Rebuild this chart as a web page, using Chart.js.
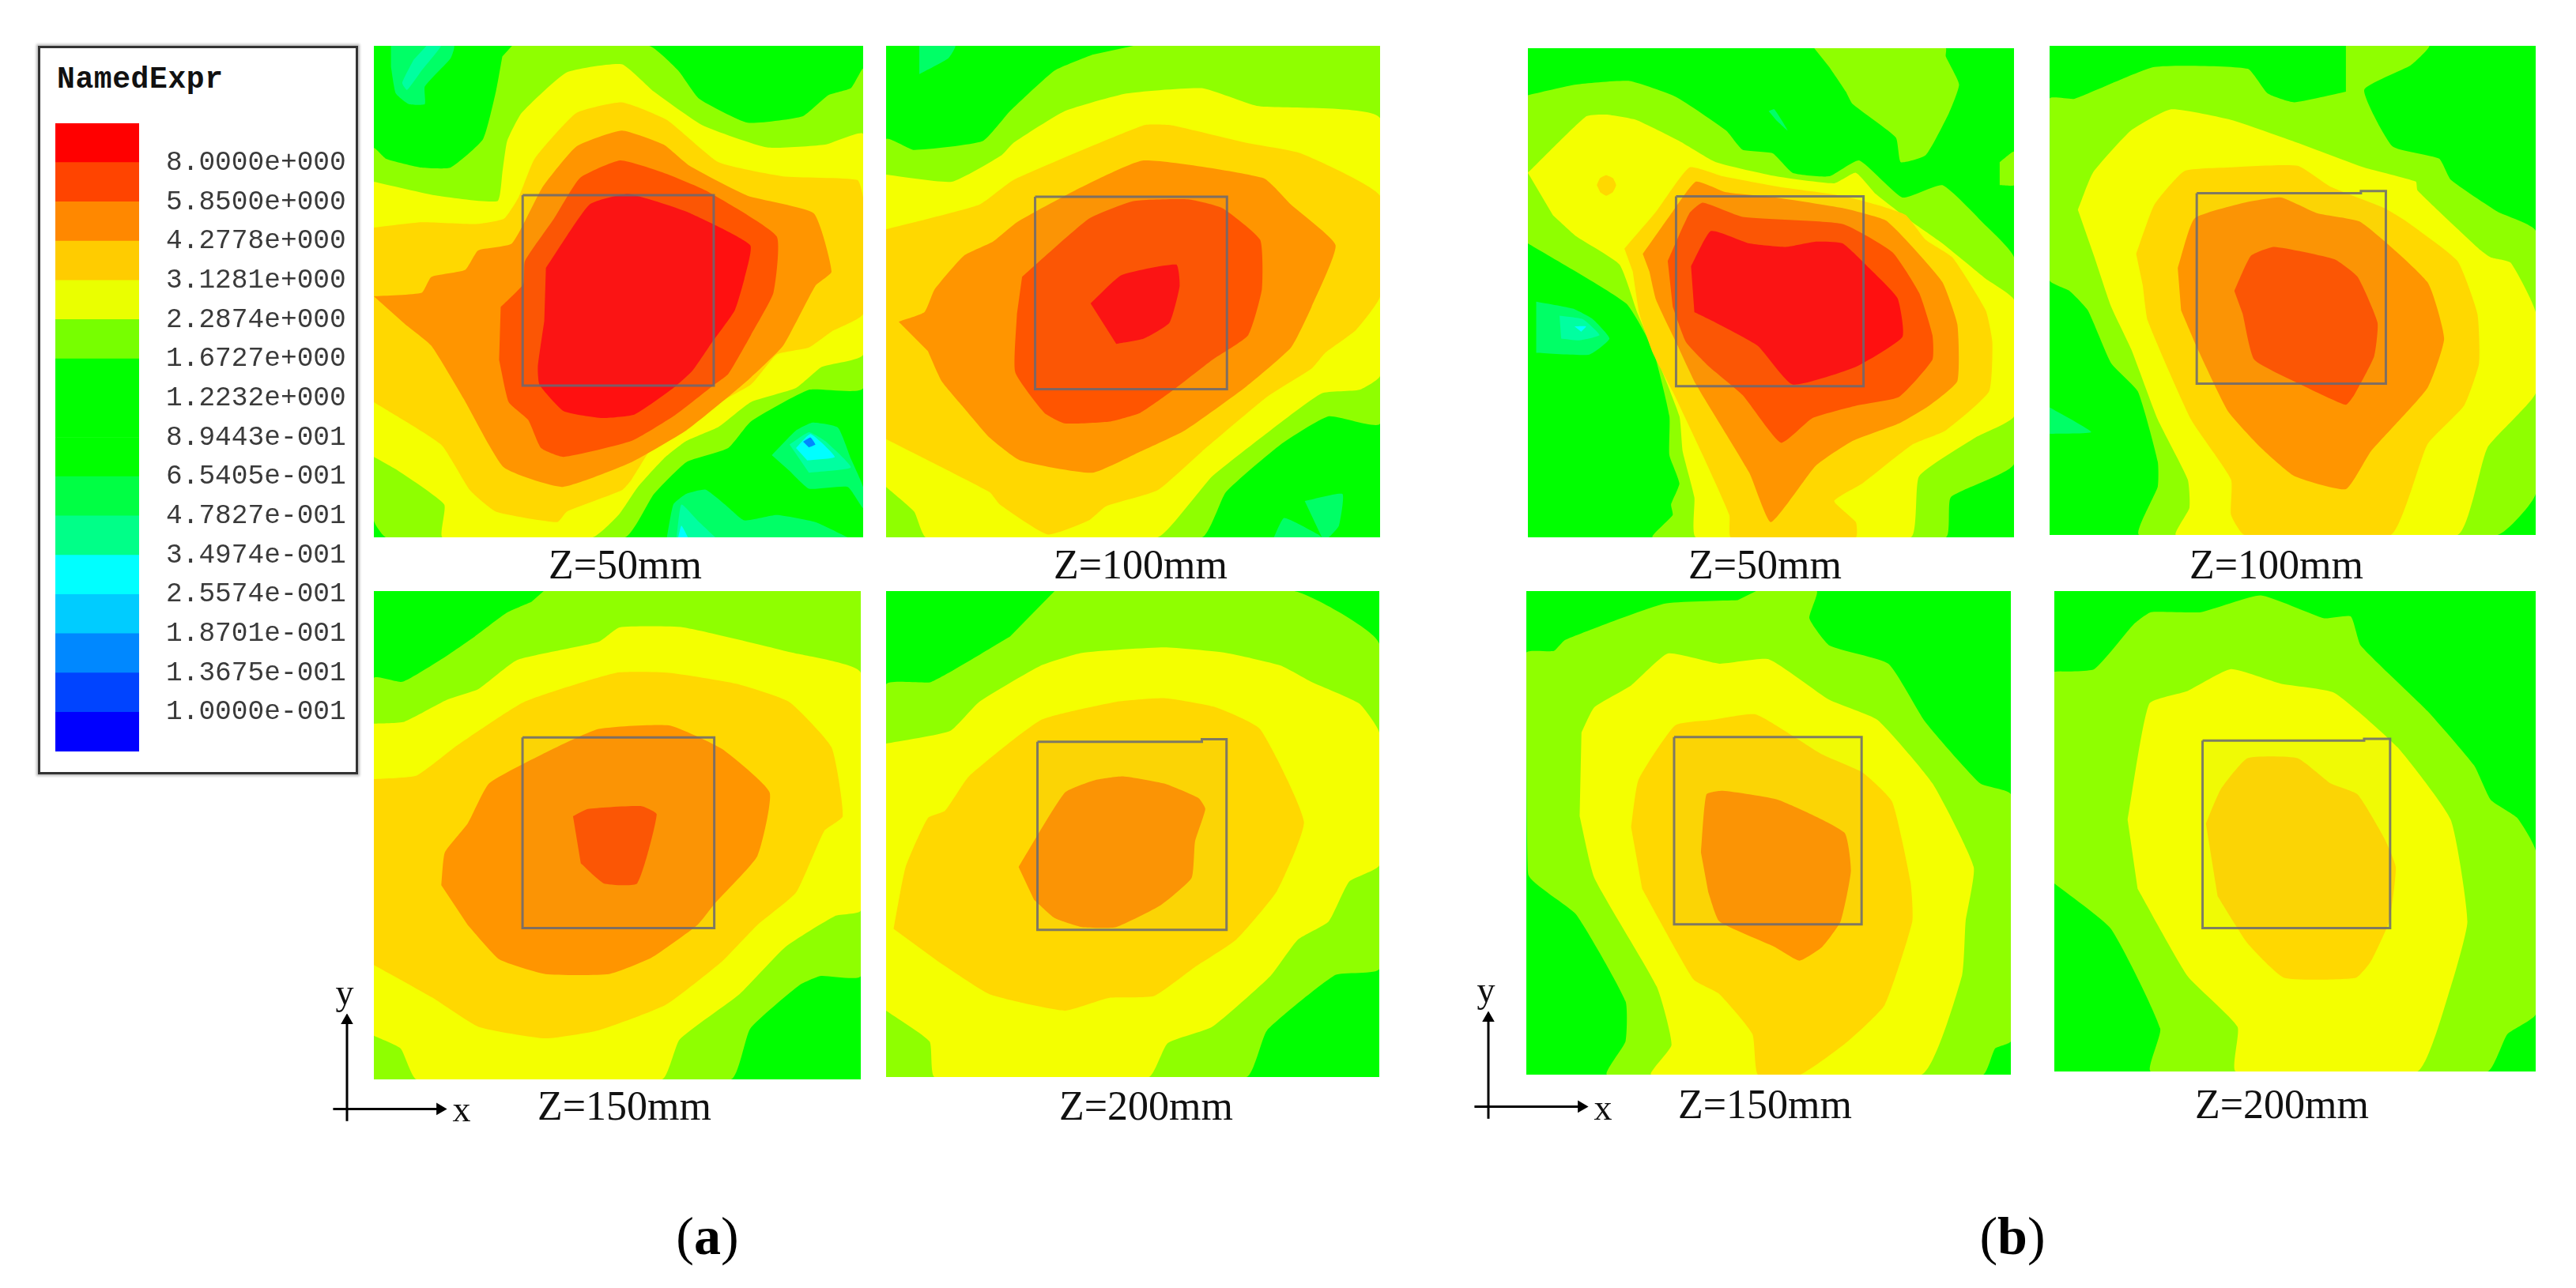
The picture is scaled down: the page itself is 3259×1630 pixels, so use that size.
<!DOCTYPE html>
<html><head><meta charset="utf-8">
<script src="https://cdn.jsdelivr.net/npm/chart.js@4"></script>
<style>
html,body{margin:0;padding:0;background:#fff;width:3259px;height:1630px;overflow:hidden}
#stage{position:relative;width:3259px;height:1630px}
canvas{position:absolute;display:block}
canvas.panel{filter:blur(0.6px)}
.cap{position:absolute;transform:translate(-50%,-50%);font-family:"Liberation Serif",serif;font-size:52px;line-height:1;color:#111;white-space:nowrap}
.sub{position:absolute;transform:translate(-50%,-50%);font-family:"Liberation Serif",serif;font-size:68px;line-height:1;color:#000;white-space:nowrap}
.ax{position:absolute;transform:translate(-50%,-50%);font-family:"Liberation Serif",serif;font-size:46px;line-height:1;color:#111}
#frame{position:absolute;left:48px;top:58px;width:399px;height:916px;border:3px solid #333;background:#fff;box-shadow:0 0 3px 2px #bbb}
#ltitle{position:absolute;left:72px;top:101px;transform:translateY(-50%);font:bold 38px "Liberation Mono",monospace;letter-spacing:0.6px;line-height:1;color:#111}
</style></head><body><div id="stage"></div>
<script>
// ---------- colour scale ----------
const legendLabels = ["8.0000e+000","5.8500e+000","4.2778e+000","3.1281e+000","2.2874e+000","1.6727e+000","1.2232e+000","8.9443e-001","6.5405e-001","4.7827e-001","3.4974e-001","2.5574e-001","1.8701e-001","1.3675e-001","1.0000e-001"];
const legendColors = ["#ff0000","#ff4400","#ff8800","#ffcc00","#eaff00","#77ff00","#00ff00","#00ff00","#00ff00","#00ff44","#00ff88","#00ffff","#00ccff","#0088ff","#0044ff","#0000ff"];
const C = {c0:"#00ff00",c1:"#8fff00",c2:"#f4ff00",c3:"#ffd800",c4:"#ff9500",c5:"#ff5500",c6:"#ff1010",l1:"#00ff66",l2:"#00ffa0",l3:"#00ffff",l4:"#0088ff"};

// ---------- (a) Z=50mm ----------
const a50_range=[32,1548,40,1433];
const a50_l1=[[85,40],[280,40],[270,75],[190,155],[190,205],[140,205],[100,175],[85,100]];
const a50_l2=[[195,40],[240,40],[180,110],[135,165],[120,145],[155,80]];
const a50_l1b=[[1265,1200],[1340,1130],[1390,1108],[1470,1122],[1510,1210],[1548,1290],[1548,1350],[1500,1290],[1380,1295],[1320,1245]];
const a50_l2b=[[1320,1170],[1380,1135],[1430,1160],[1510,1235],[1380,1250]];
const a50_l3b=[[1340,1180],[1385,1140],[1460,1205],[1375,1215]];
const a50_l4b=[[1362,1162],[1385,1150],[1400,1170],[1380,1178]];
const a50_l1c=[[940,1433],[960,1340],[1000,1310],[1060,1298],[1120,1340],[1180,1385],[1280,1370],[1400,1390],[1500,1433]];
const a50_l2c=[[970,1433],[985,1340],[1040,1390],[1090,1433]];
const a50_l3c=[[975,1433],[985,1400],[1005,1433]];
const a50_c1=[[460,40],[885,40],[975,110],[1040,190],[1190,258],[1360,240],[1440,180],[1510,160],[1548,105],[1548,1010],[1380,1015],[1200,1105],[1130,1180],[1000,1220],[900,1310],[810,1433],[70,1433],[32,1385],[32,330],[70,360],[180,385],[270,385],[370,305],[410,170],[430,70]];
const a50_c2=[[32,425],[230,465],[415,480],[430,400],[445,310],[490,230],[630,115],[800,92],[900,170],[1050,265],[1250,328],[1430,320],[1548,290],[1548,915],[1420,950],[1340,1010],[1200,1050],[1100,1120],[1000,1160],[930,1210],[850,1290],[790,1370],[710,1433],[245,1433],[250,1340],[100,1240],[32,1205]];
const a50_c3=[[32,555],[180,540],[350,545],[435,530],[480,470],[530,360],[660,230],[800,200],[940,250],[1100,370],[1300,410],[1530,420],[1548,470],[1548,800],[1450,850],[1380,895],[1280,915],[1200,1000],[1000,1100],[900,1170],[830,1270],[800,1300],[630,1360],[600,1390],[410,1360],[330,1300],[240,1170],[32,1050]];
const a50_c4=[[32,750],[180,740],[210,695],[315,675],[355,620],[460,600],[555,440],[660,325],[800,280],[930,320],[1010,380],[1190,465],[1395,515],[1450,680],[1400,720],[1300,890],[1200,980],[1130,1035],[1000,1130],[830,1220],[615,1290],[435,1235],[310,1040],[210,890],[130,830]];
const a50_c5=[[425,780],[495,715],[500,650],[590,530],[670,415],[795,365],[930,400],[1060,450],[1280,580],[1270,740],[1200,860],[1130,970],[1080,1005],[960,1090],[830,1160],[620,1205],[550,1180],[510,1100],[450,1050],[420,930]];
const a50_c6=[[565,670],[700,490],[820,460],[1000,510],[1198,605],[1180,700],[1150,790],[1080,880],[1020,960],[960,1010],[840,1085],[740,1095],[620,1075],[545,1000],[540,950],[560,820]];
const a50_box=[[493,463],[1085,463],[1085,1003],[493,1003],[493,463]];

// ---------- (a) Z=100mm ----------
const a100_range=[48,1490,40,1433];
const a100_l1=[[145,40],[250,40],[230,75],[145,120]];
const a100_l1b=[[1270,1330],[1380,1310],[1370,1400],[1340,1433],[1320,1433]];
const a100_l1c=[[1180,1433],[1210,1378],[1310,1425],[1320,1433]];
const a100_c1=[[770,40],[1490,40],[1490,1110],[1340,1090],[1200,1170],[1040,1305],[970,1433],[48,1433],[48,305],[130,335],[330,310],[410,225],[540,110],[650,65]];
const a100_c2=[[48,405],[240,425],[385,350],[420,315],[570,225],[750,175],[970,160],[1130,210],[1490,245],[1490,975],[1430,1015],[1320,1025],[1170,1130],[1000,1260],[940,1330],[840,1433],[165,1433],[130,1360],[48,1290]];
const a100_c3=[[48,560],[320,490],[420,420],[800,265],[880,265],[1100,315],[1260,345],[1490,465],[1490,750],[1420,845],[1330,910],[1290,955],[1160,1035],[970,1190],[840,1300],[690,1345],[640,1385],[520,1425],[380,1340],[350,1305],[48,1155]];
const a100_c4=[[85,822],[160,795],[190,730],[275,635],[360,595],[430,540],[600,450],[800,365],[1150,415],[1230,490],[1360,605],[1290,780],[1230,895],[1100,1005],[920,1130],[790,1190],[650,1250],[440,1215],[350,1150],[270,1060],[210,990],[170,905]];
const a100_c5=[[445,695],[640,530],[770,480],[930,475],[1030,500],[1140,590],[1145,730],[1105,860],[1000,930],[880,1020],[790,1080],[700,1105],[570,1110],[510,1080],[425,965],[430,800]];
const a100_c6=[[645,770],[735,690],[895,660],[905,720],[875,825],[800,870],[720,885]];
const a100_box=[[483,468],[1043,468],[1043,1013],[483,1013],[483,468]];

// ---------- (a) Z=150mm ----------
const a150_range=[164,1543,40,1385];
const a150_c1=[[645,40],[1543,40],[1543,1100],[1430,1100],[1370,1125],[1230,1245],[1175,1385],[164,1385],[164,280],[245,290],[360,225],[450,165],[540,100],[610,70]];
const a150_c2=[[164,405],[250,400],[370,340],[460,310],[570,230],[800,180],[860,140],[1040,140],[1350,210],[1543,265],[1543,920],[1470,935],[1330,1020],[1200,1150],[1030,1275],[980,1385],[285,1385],[240,1300],[164,1265]];
const a150_c3=[[164,558],[285,548],[400,465],[590,345],[850,265],[1000,265],[1190,295],[1340,345],[1460,470],[1492,660],[1440,700],[1360,870],[1250,960],[1150,1060],[990,1180],[800,1250],[650,1272],[460,1240],[330,1160],[164,1070]];
const a150_c4=[[355,850],[365,760],[430,680],[490,570],[640,490],[800,420],[1000,410],[1150,475],[1285,595],[1250,770],[1130,900],[1080,960],[950,1050],[830,1095],[650,1095],[520,1055],[430,960]];
const a150_c5=[[728,660],[770,640],[920,632],[965,655],[910,845],[815,845],[750,790]];
const a150_box=[[585,443],[1128,443],[1128,968],[585,968],[585,443]];

// ---------- (a) Z=200mm ----------
const a200_range=[48,1488,40,1378];
const a200_c1=[[540,40],[1240,40],[1488,185],[1488,1080],[1360,1097],[1160,1250],[1100,1378],[48,1378],[48,298],[180,290],[410,165]];
const a200_c2=[[48,460],[235,425],[320,345],[500,245],[620,210],[860,195],[1040,210],[1200,245],[1290,290],[1430,350],[1488,430],[1488,795],[1400,840],[1340,950],[1250,1000],[1170,1100],[1000,1240],[870,1285],[815,1378],[190,1378],[175,1280],[48,1195]];
const a200_c3=[[70,970],[105,800],[170,665],[220,645],[290,550],[500,395],[720,345],[860,335],[1010,360],[1140,420],[1268,675],[1190,865],[1070,1000],[950,1075],[830,1155],[700,1160],[570,1195],[350,1150],[200,1060]];
const a200_c4=[[435,800],[570,595],[660,560],[740,550],[860,570],[960,610],[980,640],[950,730],[940,830],[850,905],[720,965],[620,965],[540,940],[480,890]];
const a200_box=[[490,455],[970,455],[970,448],[1042,448],[1042,973],[490,973],[490,455]];

// ---------- (b) Z=50mm ----------
const b50_range=[55,1515,47,1433];
const b50_l1=[[80,765],[190,785],[250,815],[300,870],[240,915],[80,910]];
const b50_l2=[[150,805],[220,815],[270,860],[210,875],[155,870]];
const b50_l3=[[195,835],[230,835],[215,850]];
const b50_l1b=[[778,225],[795,220],[835,280],[800,250]];
const b50_c1a=[[915,47],[1310,47],[1310,70],[1350,150],[1320,230],[1250,350],[1175,370],[1160,300],[1030,205],[1010,170],[960,100]];
const b50_c1b=[[1472,370],[1515,340],[1515,435],[1472,435]];
const b50_c1=[[55,180],[200,150],[360,140],[500,185],[650,280],[700,335],[790,345],[850,400],[960,410],[1050,365],[1180,470],[1300,435],[1420,540],[1515,640],[1515,1225],[1325,1320],[1310,1433],[430,1433],[490,1370],[485,1340],[510,1280],[480,1200],[480,1090],[430,900],[350,770],[55,600]];
const b50_c2=[[55,400],[230,240],[290,235],[380,250],[510,310],[620,370],[800,410],[975,430],[1040,400],[1100,460],[1210,540],[1300,600],[1430,700],[1515,760],[1515,1090],[1400,1150],[1230,1260],[1205,1433],[560,1433],[555,1320],[520,1190],[510,1090],[440,920],[385,800],[330,660],[200,580],[130,520]];
const b50_c3a=[[262,435],[272,415],[290,407],[310,415],[320,435],[310,455],[290,465],[272,455]];
const b50_c3=[[345,615],[440,510],[540,385],[640,410],[810,440],[1000,465],[1100,490],[1190,520],[1250,590],[1330,640],[1430,790],[1450,880],[1440,1020],[1310,1130],[1210,1170],[1060,1280],[975,1330],[1040,1390],[1040,1433],[665,1433],[660,1370],[580,1200],[490,1020],[430,910],[390,800],[370,680]];
const b50_c4=[[400,630],[490,510],[560,425],[650,455],[800,470],[1000,500],[1130,535],[1210,610],[1300,710],[1345,830],[1345,990],[1260,1060],[1170,1110],[1030,1160],[920,1230],[785,1390],[720,1250],[560,1000],[500,880],[440,760],[420,680]];
const b50_c5=[[475,650],[540,515],[580,485],[700,525],[1000,545],[1150,625],[1230,740],[1270,860],[1270,930],[1170,1035],[1040,1060],[910,1095],[815,1165],[700,1030],[600,950],[530,880],[490,780]];
const b50_c6=[[545,665],[605,565],[720,600],[830,610],[920,595],[1000,600],[1080,670],[1165,755],[1180,865],[1040,950],[850,1000],[745,890],[620,825],[555,795]];
const b50_box=[[500,467],[1063,467],[1063,1005],[500,1005],[500,467]];

// ---------- (b) Z=100mm ----------
const b100_range=[55,1515,40,1427];
const b100_l1=[[55,1065],[180,1135],[55,1140]];
const b100_c1=[[945,40],[1195,40],[1140,95],[1000,165],[1085,325],[1225,360],[1260,420],[1400,510],[1515,565],[1515,1310],[1400,1427],[325,1427],[380,1290],[380,1220],[320,1020],[240,940],[170,790],[115,735],[55,705],[55,190],[130,190],[370,100],[650,105],[710,175],[790,200],[945,170]];
const b100_c2=[[140,505],[185,400],[300,280],[420,220],[600,250],[800,315],[1000,385],[1155,425],[1160,450],[1350,620],[1380,640],[1440,655],[1515,795],[1515,1025],[1370,1180],[1280,1427],[435,1427],[475,1350],[470,1270],[380,1100],[300,900],[240,780],[190,640]];
const b100_c3=[[315,630],[370,490],[460,395],[590,385],[800,380],[900,440],[1060,500],[1130,540],[1280,650],[1340,800],[1345,940],[1300,1060],[1190,1170],[1080,1427],[640,1427],[600,1370],[600,1270],[480,1100],[350,820],[335,720]];
const b100_c4=[[440,670],[490,530],[640,485],[750,470],[860,515],[990,540],[1190,710],[1240,870],[1190,1010],[1020,1190],[945,1297],[790,1260],[690,1180],[590,1075],[500,900],[450,790]];
const b100_c5=[[610,735],[660,635],[730,610],[910,645],[980,695],[1040,825],[1030,920],[970,1030],[945,1058],[820,1005],[670,930],[635,800]];
const b100_box=[[497,458],[990,458],[990,452],[1065,452],[1065,998],[497,998],[497,458]];

// ---------- (b) Z=150mm ----------
const b150_range=[195,1513,40,1372];
const b150_c1=[[820,40],[985,40],[965,115],[1020,190],[1180,240],[1280,400],[1430,570],[1513,600],[1513,1280],[1470,1300],[1437,1372],[415,1372],[465,1280],[465,1170],[330,930],[200,820],[195,210],[270,205],[300,175],[570,75],[770,65]];
const b150_c2=[[345,430],[380,360],[480,300],[580,212],[720,240],[855,228],[1020,340],[1150,395],[1300,570],[1412,800],[1390,950],[1380,1100],[1270,1372],[535,1372],[590,1290],[550,1130],[380,830],[340,660]];
const b150_c3=[[480,690],[500,560],[600,410],[700,395],[820,380],[1000,490],[1110,540],[1190,620],[1240,840],[1245,950],[1170,1180],[1070,1280],[940,1372],[825,1372],[810,1260],[720,1150],[650,1110],[510,860]];
const b150_c4=[[670,760],[685,600],[730,590],[880,615],[1060,705],[1078,810],[1050,950],[1000,1020],[938,1058],[870,1020],[720,950],[690,870]];
const b150_box=[[597,442],[1107,442],[1107,958],[597,958],[597,442]];

// ---------- (b) Z=200mm ----------
const b200_range=[70,1515,40,1363];
const b200_c1=[[70,262],[190,255],[310,130],[360,98],[510,98],[690,52],[880,115],[960,110],[990,190],[1190,370],[1330,520],[1380,615],[1460,665],[1515,755],[1515,1205],[1430,1260],[1370,1363],[360,1363],[388,1245],[240,970],[70,845]];
const b200_c2=[[290,670],[355,350],[470,315],[600,255],[750,295],[910,320],[1100,470],[1260,670],[1310,950],[1260,1130],[1160,1363],[615,1363],[620,1240],[470,1100],[320,860]];
const b200_c3=[[525,680],[570,585],[650,500],[800,500],[900,570],[980,600],[1060,720],[1095,800],[1075,950],[1020,1060],[975,1105],[760,1105],[650,1010],[560,880]];
const b200_box=[[515,452],[1000,452],[1000,447],[1078,447],[1078,968],[515,968],[515,452]];

// ---------- text ----------
const captions=["Z=50mm","Z=100mm","Z=150mm","Z=200mm"];
const subLabels=["a","b"];
const legendTitle="NamedExpr";

// ---------- page layout (pixels) ----------
const panels=[
 {rect:[473,58,619,622],range:a50_range,box:a50_box,cap:[captions[0],791,715],layers:[["l1",a50_l1],["l2",a50_l2],["l1",a50_l1b],["l2",a50_l2b],["l3",a50_l3b],["l4",a50_l4b],["l1",a50_l1c],["l2",a50_l2c],["l3",a50_l3c],["c1",a50_c1],["c2",a50_c2],["c3",a50_c3],["c4",a50_c4],["c5",a50_c5],["c6",a50_c6]]},
 {rect:[1121,58,625,622],range:a100_range,box:a100_box,cap:[captions[1],1443,715],layers:[["l1",a100_l1],["l1",a100_l1b],["l1",a100_l1c],["c1",a100_c1],["c2",a100_c2],["c3",a100_c3],["c4",a100_c4],["c5",a100_c5],["c6",a100_c6]]},
 {rect:[473,748,616,618],range:a150_range,box:a150_box,cap:[captions[2],790,1400],layers:[["c1",a150_c1],["c2",a150_c2],["c3",a150_c3],["c4",a150_c4],["c5",a150_c5]]},
 {rect:[1121,748,624,615],range:a200_range,box:a200_box,cap:[captions[3],1450,1400],layers:[["c1",a200_c1],["c2",a200_c2],["c3",a200_c3],["c4",a200_c4]]},
 {rect:[1933,61,615,619],range:b50_range,box:b50_box,cap:[captions[0],2233,715],layers:[["l1",b50_l1],["l2",b50_l2],["l3",b50_l3],["l1",b50_l1b],["c1",b50_c1a],["c1",b50_c1b],["c1",b50_c1],["c2",b50_c2],["c3",b50_c3a],["c3",b50_c3],["c4",b50_c4],["c5",b50_c5],["c6",b50_c6]]},
 {rect:[2593,58,615,619],range:b100_range,box:b100_box,cap:[captions[1],2880,715],layers:[["l1",b100_l1],["c1",b100_c1],["c2",b100_c2],["c3",b100_c3],["c4",b100_c4],["c5",b100_c5]]},
 {rect:[1931,748,613,612],range:b150_range,box:b150_box,cap:[captions[2],2233,1398],layers:[["c1",b150_c1],["c2",b150_c2],["c3",b150_c3],["c4",b150_c4]]},
 {rect:[2599,748,609,608],range:b200_range,box:b200_box,cap:[captions[3],2887,1398],layers:[["c1",b200_c1],["c2",b200_c2],["c3",b200_c3]]}
];
const gizmos=[
 {rect:[415,1283,160,140],y:[436,1256],x:[584,1404]},
 {rect:[1859,1280,160,140],y:[1880,1253],x:[2028,1402]}
];
const gizmoV=[[0.15,0.03],[0.15,0.94]];
const gizmoH=[[0.04,0.14],[0.885,0.14]];

const stage=document.getElementById("stage");
function mkCanvas(x,y,w,h,cls){const c=document.createElement("canvas");c.width=w;c.height=h;if(cls)c.className=cls;c.style.cssText=`left:${x}px;top:${y}px;width:${w}px;height:${h}px`;stage.appendChild(c);return c;}
function addText(cls,html,x,y){const d=document.createElement("div");d.className=cls;d.innerHTML=html;d.style.left=x+"px";d.style.top=y+"px";stage.appendChild(d);}
const pts=a=>a.map(p=>({x:p[0],y:p[1]}));
const baseOpts={responsive:false,animation:false,devicePixelRatio:1,layout:{padding:0,autoPadding:false},plugins:{legend:{display:false},tooltip:{enabled:false},title:{display:false}},events:[]};

// contour panels
panels.forEach(p=>{
 const [x0,x1,y0,y1]=p.range;
 const ds=[];
 const add=(data,bg,bc,bw,t)=>ds.push({data:pts(data),showLine:true,fill:bg?"shape":false,backgroundColor:bg||"transparent",borderColor:bc||"transparent",borderWidth:bw||0,pointRadius:0,tension:t||0,borderJoinStyle:"miter"});
 add([[x0,y0],[x1,y0],[x1,y1],[x0,y1]],C.c0);
 p.layers.forEach(l=>add(l[1],C[l[0]],null,0,0.15));
 add(p.box,"rgba(150,140,120,0.04)","rgba(105,105,115,0.85)",3);
 ds.reverse();
 const [rx,ry,rw,rh]=p.rect;
 new Chart(mkCanvas(rx,ry,rw,rh,"panel"),{type:"scatter",data:{datasets:ds},options:{...baseOpts,scales:{x:{type:"linear",display:false,min:x0,max:x1},y:{type:"linear",display:false,reverse:true,min:y0,max:y1}}}});
 addText("cap",p.cap[0],p.cap[1],p.cap[2]);
});

// legend
const fr=document.createElement("div");fr.id="frame";stage.appendChild(fr);
const lt=document.createElement("div");lt.id="ltitle";lt.textContent=legendTitle;stage.appendChild(lt);
const bandValues=legendColors.map(()=>1);
const bandSets=legendColors.slice().reverse().map((col,i)=>({data:[bandValues[i]],backgroundColor:col,borderWidth:0,stack:"s",barPercentage:1,categoryPercentage:1}));
new Chart(mkCanvas(70,156,372,795),{type:"bar",data:{labels:[""],datasets:bandSets},options:{...baseOpts,scales:{
 x:{display:false,stacked:true},
 y:{position:"right",stacked:true,min:0,max:16,grid:{display:false},border:{display:false},
    ticks:{stepSize:1,autoSkip:false,padding:26,color:"#3a3a3a",font:{family:"Liberation Mono",size:34.5},align:"center",crossAlign:"near",
      callback:v=>(v>=1&&v<=15)?legendLabels[15-v]:""},
    afterFit(s){s.width=266;s.paddingTop=0;s.paddingBottom=0;}}}}});

// x / y direction markers
gizmos.forEach(g=>{
 const [rx,ry,rw,rh]=g.rect;
 const mk=(d,rot)=>({data:pts(d),showLine:true,borderColor:"#000",borderWidth:3,pointRadius:[0,9],pointStyle:"triangle",rotation:rot,pointBackgroundColor:"#000",pointBorderWidth:0,fill:false});
 new Chart(mkCanvas(rx,ry,rw,rh),{type:"scatter",data:{datasets:[mk(gizmoV,0),mk(gizmoH,90)]},options:{...baseOpts,scales:{x:{display:false,min:0,max:1},y:{display:false,min:0,max:1}}}});
 addText("ax","y",g.y[0],g.y[1]);
 addText("ax","x",g.x[0],g.x[1]);
});

addText("sub","(<b>"+subLabels[0]+"</b>)",895,1564);
addText("sub","(<b>"+subLabels[1]+"</b>)",2546,1564);
</script></body></html>
